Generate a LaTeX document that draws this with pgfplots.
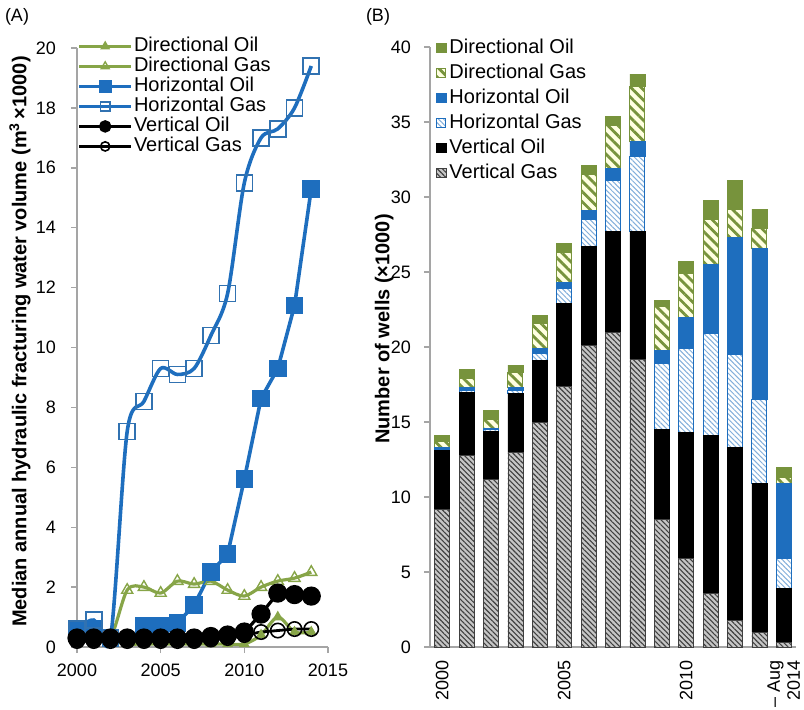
\documentclass[border=0pt]{standalone}
\usepackage{fontspec}
\setmainfont{Liberation Sans}
\usepackage{pgfplots}
\pgfplotsset{compat=1.18}
\usetikzlibrary{patterns,patterns.meta}
\definecolor{dgreen}{RGB}{119,147,60}
\definecolor{lgreen}{RGB}{135,165,72}
\definecolor{wblue}{RGB}{30,110,190}
\definecolor{axgray}{RGB}{165,165,165}
\definecolor{pyellow}{RGB}{255,255,225}

\pgfplotstableread{
year DO DG HO HG VO VG
2000 0.3 0.3 0.6 0.6 0.3 0.2
2001 0.3 0.3 0.6 0.9 0.3 0.2
2002 0.2 0.3 nan 0.3 0.3 0.2
2003 0.1 1.9 nan 7.2 0.3 0.2
2004 0.1 2.0 0.7 8.2 0.3 0.2
2005 0.1 1.8 0.7 9.3 0.3 0.2
2006 0.1 2.2 0.8 9.1 0.3 0.2
2007 0.1 2.1 1.4 9.3 0.3 0.2
2008 0.1 2.2 2.5 10.4 0.35 0.25
2009 0.1 1.9 3.1 11.8 0.4 0.3
2010 0.1 1.7 5.6 15.5 0.5 0.4
2011 0.4 2.0 8.3 17.0 1.1 0.5
2012 1.0 2.2 9.3 17.3 1.8 0.55
2013 0.5 2.3 11.4 18.0 1.75 0.6
2014 0.5 2.5 15.3 19.4 1.7 0.6
}\linedata

\pgfplotstableread{
x VG VO HG HO DG DO
0 9.2 3.9 0.1 0.1 0.4 0.4
1 12.8 4.2 0.1 0.2 0.6 0.6
2 11.2 3.2 0.1 0.1 0.6 0.6
3 13.0 3.9 0.2 0.2 1.0 0.5
4 15.0 4.1 0.5 0.3 1.7 0.5
5 17.4 5.5 1.0 0.4 2.0 0.6
6 20.1 6.6 1.8 0.6 2.4 0.6
7 21.0 6.7 3.4 0.8 2.9 0.6
8 19.2 8.5 5.0 1.0 3.7 0.8
9 8.5 6.0 4.4 0.9 2.9 0.4
10 5.9 8.4 5.6 2.1 2.9 0.8
11 3.6 10.5 6.8 4.6 3.0 1.3
12 1.8 11.5 6.2 7.8 1.9 1.9
13 1.0 9.9 5.6 10.1 1.3 1.3
14 0.3 3.6 2.0 5.0 0.4 0.7
}\bardata

\begin{document}
\begin{tikzpicture}[x=1pt,y=1pt]
\useasboundingbox (0,0) rectangle (402,354.5);
\node[font=\fontsize{9}{10}\selectfont] at (8.5,346) {(A)};
\node[font=\fontsize{9}{10}\selectfont] at (189,346) {(B)};

% ---------- Panel A ----------
\begin{axis}[
  at={(38.5pt,31pt)}, anchor=south west, scale only axis,
  width=125.5pt, height=299.5pt,
  xmin=2000, xmax=2015, ymin=0, ymax=20,
  axis x line*=bottom, axis y line*=left,
  axis line style={axgray, line width=0.7pt},
  tick style={axgray, line width=0.7pt},
  tick align=outside, major tick length=3pt,
  xtick={2000,2005,2010,2015}, ytick={0,2,...,20},
  /pgf/number format/1000 sep={},
  /pgf/number format/assume math mode=true,
  tick label style={font=\fontsize{9}{10}\selectfont, black},
  yticklabel style={xshift=-4pt},
  xticklabel style={yshift=-2pt},
  ylabel={\textbf{Median annual hydraulic fracturing water volume (m\textsuperscript{3}\,×1000)}},
  every axis y label/.style={at={(axis description cs:-0.227,0.51)}, rotate=90, anchor=center, font=\fontsize{10}{10}\selectfont},
  clip=false, unbounded coords=jump,
  legend style={at={(0.0,1.02)}, anchor=north west, draw=none, fill=none, inner sep=0pt,
    font=\fontsize{10}{10}\selectfont, row sep=0pt,
    nodes={inner sep=0.5pt, text height=7.2pt, text depth=1.8pt}},
  legend cell align=left,
  legend image post style={mark size=2.3pt},
  legend image code/.code={\draw[mark repeat=2,mark phase=2,#1] plot coordinates {(0pt,0pt) (13pt,0pt) (26pt,0pt)};},
]
\addplot[lgreen, line width=1.6pt, smooth, mark=triangle*, mark size=2.6pt, mark options={solid, fill=lgreen, draw=lgreen, line width=0.6pt}] table[x=year,y=DO] {\linedata};
\addlegendentry{Directional Oil}
\addplot[lgreen, line width=1.6pt, smooth, mark=triangle, mark size=3.2pt, mark options={solid, draw=lgreen, line width=0.7pt}] table[x=year,y=DG] {\linedata};
\addlegendentry{Directional Gas}
\addplot[wblue, line width=1.8pt, mark=square*, mark size=3.5pt, mark options={solid, fill=wblue, draw=wblue}] table[x=year,y=HO] {\linedata};
\addlegendentry{Horizontal Oil}
\addplot[wblue, line width=1.8pt, smooth, mark=square, mark size=4pt, mark options={solid, draw=wblue!80!gray, line width=0.8pt}] table[x=year,y=HG] {\linedata};
\addlegendentry{Horizontal Gas}
\addplot[black, line width=1.6pt, mark=*, mark size=4pt, mark options={solid, fill=black}] table[x=year,y=VO] {\linedata};
\addlegendentry{Vertical Oil}
\addplot[black, line width=1.4pt, mark=o, mark size=3.6pt, mark options={solid, line width=0.8pt}] table[x=year,y=VG] {\linedata};
\addlegendentry{Vertical Gas}
\end{axis}

% ---------- Panel B ----------
\begin{axis}[
  at={(215pt,31pt)}, anchor=south west, scale only axis,
  width=183pt, height=300pt,
  xmin=-0.5, xmax=14.5, ymin=0, ymax=40,
  ybar stacked, bar width=7.5pt,
  axis x line*=bottom, axis y line*=left,
  axis line style={axgray, line width=0.7pt},
  tick style={axgray, line width=0.7pt},
  tick align=outside, major tick length=3pt,
  major x tick style={draw=none},
  xtick={0,5,10,14},
  xticklabels={2000,2005,2010,{Jan -- Aug\\2014}},
  xticklabel style={rotate=90, anchor=east, align=right, font=\fontsize{9}{10}\selectfont, black},
  ytick={0,5,...,40},
  /pgf/number format/assume math mode=true,
  yticklabel style={xshift=-3pt, font=\fontsize{9}{10}\selectfont, black},
  ylabel={\textbf{Number of wells (×1000)}},
  every axis y label/.style={at={(axis description cs:-0.125,0.53)}, rotate=90, anchor=center, font=\fontsize{10}{10}\selectfont},
  clip=false,
  reverse legend,
  legend style={at={(0.016,1.02)}, anchor=north west, draw=none, fill=none, inner sep=0pt,
    font=\fontsize{10}{10}\selectfont, row sep=0pt,
    nodes={inner sep=1.5pt, text height=7.5pt, text depth=2pt}},
  legend cell align=left,
  legend image code/.code={\draw[#1] (0pt,-2.3pt) rectangle (4.6pt,2.3pt);},
]
\addplot[draw=black!75, line width=0.4pt, preaction={fill=gray!45}, pattern={Lines[angle=-45, distance=1.8pt, line width=0.55pt]}, pattern color=black!75] table[x=x,y=VG] {\bardata};
\addlegendentry{Vertical Gas}
\addplot[draw=black, fill=black, line width=0.4pt] table[x=x,y=VO] {\bardata};
\addlegendentry{Vertical Oil}
\addplot[draw=wblue, line width=0.5pt, preaction={fill=white}, pattern={Lines[angle=-45, distance=1.8pt, line width=0.5pt]}, pattern color=wblue!55] table[x=x,y=HG] {\bardata};
\addlegendentry{Horizontal Gas}
\addplot[draw=wblue, fill=wblue, line width=0.4pt] table[x=x,y=HO] {\bardata};
\addlegendentry{Horizontal Oil}
\addplot[draw=dgreen, line width=0.5pt, preaction={fill=pyellow}, pattern={Lines[angle=-45, distance=3.6pt, line width=1.4pt]}, pattern color=dgreen] table[x=x,y=DG] {\bardata};
\addlegendentry{Directional Gas}
\addplot[draw=dgreen, fill=dgreen, line width=0.4pt] table[x=x,y=DO] {\bardata};
\addlegendentry{Directional Oil}
\end{axis}
\end{tikzpicture}
\end{document}
